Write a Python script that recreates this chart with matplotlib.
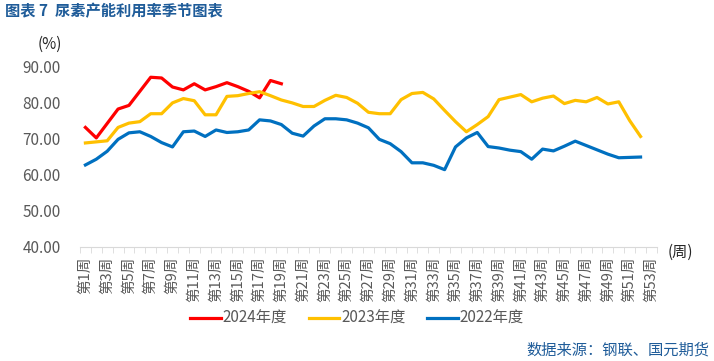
import matplotlib
matplotlib.use("Agg")
import matplotlib.pyplot as plt
from matplotlib.ticker import FixedLocator, NullFormatter

plt.rcParams['font.family'] = ['Noto Sans CJK SC', 'DejaVu Sans']

weeks = ['第%d周' % i for i in range(1, 54)]

# 2024 season (weeks 1-19)
y2024 = [73.1, 70.2, 74.2, 78.2, 79.2, 83.1, 87.0, 86.8, 84.3, 83.5,
         85.2, 83.5, 84.4, 85.5, 84.4, 83.1, 81.3, 86.1, 85.2]
# 2023 season (weeks 1-52)
y2023 = [68.8, 69.1, 69.4, 73.1, 74.3, 74.7, 76.9, 76.9, 79.9, 81.1,
         80.5, 76.6, 76.6, 81.7, 81.9, 82.5, 83.0, 81.9, 80.7, 79.9,
         78.9, 78.9, 80.6, 82.0, 81.4, 79.8, 77.3, 76.9, 76.9, 80.8,
         82.5, 82.8, 81.0, 77.8, 74.7, 71.9, 73.9, 76.1, 80.8, 81.5,
         82.2, 80.2, 81.2, 81.8, 79.7, 80.6, 80.2, 81.4, 79.6, 80.2,
         75.0, 70.6]
# 2022 season (weeks 1-52)
y2022 = [62.7, 64.3, 66.5, 69.8, 71.6, 71.9, 70.6, 68.9, 67.7, 71.9,
         72.1, 70.6, 72.4, 71.7, 71.9, 72.4, 75.2, 74.9, 73.9, 71.5,
         70.7, 73.5, 75.5, 75.5, 75.2, 74.3, 73.0, 69.8, 68.6, 66.4,
         63.3, 63.3, 62.6, 61.4, 67.7, 70.2, 71.7, 67.8, 67.4, 66.8,
         66.4, 64.3, 67.1, 66.6, 67.9, 69.3, 68.1, 66.9, 65.7, 64.7,
         64.8, 64.9]

fig = plt.figure(figsize=(7.14, 3.61), dpi=100)
ax = fig.add_axes([0.112, 0.316, 0.808, 0.5])

x = list(range(53))
ax.plot(x[:len(y2024)], y2024, color='#FF0000', lw=2.3, label='2024年度')
ax.plot(x[:len(y2023)], y2023, color='#FFC000', lw=2.3, label='2023年度')
ax.plot(x[:len(y2022)], y2022, color='#0070C0', lw=2.3, label='2022年度')

ax.set_xlim(-0.5, 52.5)
ax.set_ylim(40, 90)
ax.set_yticks([40, 50, 60, 70, 80, 90])
ax.set_yticklabels(['%.2f' % v for v in [40, 50, 60, 70, 80, 90]])

ax.set_xticks(x[::2])
ax.set_xticklabels(weeks[::2], rotation=90, fontsize=10.5, color='#595959')
ax.xaxis.set_minor_locator(FixedLocator([i - 0.5 for i in range(54)]))
ax.xaxis.set_minor_formatter(NullFormatter())
ax.tick_params(axis='x', which='major', length=0, pad=7)
ax.tick_params(axis='x', which='minor', length=4, color='#D9D9D9')
ax.tick_params(axis='y', length=0, labelsize=11, labelcolor='#595959', pad=14)

for s in ['top', 'right', 'left']:
    ax.spines[s].set_visible(False)
ax.spines['bottom'].set_color('#D9D9D9')

fig.text(0.007, 0.968, '图表 7  尿素产能利用率季节图表', fontsize=11, fontweight='bold',
         color='#1F5C99', va='center', ha='left')
fig.text(0.053, 0.878, '(%)', fontsize=11, color='#262626', va='center', ha='left')
fig.text(0.935, 0.302, '(周)', fontsize=11, color='#262626', va='center', ha='left')
fig.text(0.993, 0.03, '数据来源：钢联、国元期货', fontsize=11, color='#1F5C99',
         va='center', ha='right')

fig.legend(loc='center', bbox_to_anchor=(0.50, 0.118), ncol=3, frameon=False,
           fontsize=11, handlelength=2.0, columnspacing=1.4, handletextpad=0.15,
           labelcolor='#595959')

fig.savefig('out.png', dpi=100)
